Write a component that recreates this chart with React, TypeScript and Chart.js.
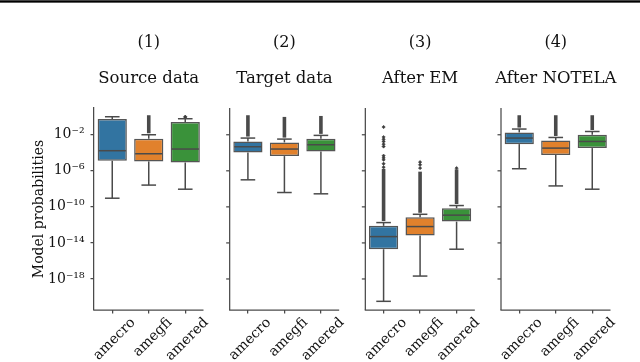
import { useEffect, useRef } from 'react';
import { Chart, registerables } from 'chart.js';

Chart.register(...registerables);

// ---------- data ----------
const PANEL_NUMBERS = ['(1)', '(2)', '(3)', '(4)'];
const PANEL_TITLES = ['Source data', 'Target data', 'After EM', 'After NOTELA'];
const SPECIES = ['amecro', 'amegfi', 'amered'];
const BOX_COLORS = ['#3274a1', '#e1812c', '#3a923a'];

// one entry per box, panel by panel: (1) amecro, amegfi, amered, (2) ..., (3) ..., (4) ...
const WHISKER_LOW = [9.1e-10, 2.6e-8, 9.1e-9, 1.0e-7, 3.9e-9, 2.8e-9, 3.3e-21, 2.1e-18, 2.0e-15, 1.7e-6, 2.1e-8, 9.1e-9];
const Q1 = [1.3e-5, 1.1e-5, 8.5e-6, 1.1e-4, 4.3e-5, 1.4e-4, 2.0e-15, 6.5e-14, 2.3e-12, 9.1e-4, 5.5e-5, 3.3e-4];
const MEDIAN = [1.7e-4, 7.8e-5, 2.6e-4, 4.7e-4, 2.6e-4, 7.8e-4, 5.0e-14, 6.5e-13, 1.2e-11, 4.3e-3, 3.3e-4, 1.8e-3];
const Q3 = [0.55, 3.6e-3, 0.26, 1.8e-3, 1.4e-3, 3.6e-3, 7.8e-13, 7.1e-12, 7.1e-11, 1.8e-2, 2.3e-3, 1.0e-2];
const WHISKER_HIGH = [1.0, 1.0e-2, 0.6, 4.3e-3, 3.3e-3, 8.5e-3, 1.8e-12, 1.5e-11, 1.4e-10, 4.3e-2, 5.0e-3, 2.3e-2];
// outliers that overlap into a solid column: [from, to]
const FLIER_DENSE_LOW = [null, 1.0e-2, null, 4.3e-3, 3.3e-3, 8.5e-3, 1.8e-12, 1.5e-11, 1.4e-10, 4.3e-2, 5.0e-3, 2.3e-2];
const FLIER_DENSE_HIGH = [null, 1.0, null, 1.0, 0.65, 0.83, 1.1e-6, 5.5e-7, 1.0e-6, 1.0, 1.0, 1.0];
// isolated outliers
const FLIER_SPARSE: number[][] = [
  [], [], [0.9, 1.0],
  [], [], [],
  [7.2e-2, 5.5e-3, 3.2e-3, 1.8e-3, 9.1e-4, 5.0e-4, 4.7e-5, 2.8e-5, 1.7e-5, 6.0e-6, 2.5e-6],
  [9.3e-6, 4.7e-6, 2.0e-6],
  [2.0e-6],
  [], [], [],
];

const Y_TICKS = [1e-2, 1e-6, 1e-10, 1e-14, 1e-18];
const Y_TICK_LABELS = ['10⁻²', '10⁻⁶', '10⁻¹⁰', '10⁻¹⁴', '10⁻¹⁸'];
const Y_LABEL = 'Model probabilities';
const Y_MIN = 3.6e-22;
const Y_MAX = 9.3;

// ---------- layout ----------
const PANEL_STEP = 3.717;
const BOX_WIDTH = 0.8;
const FONT = 'DejaVu Serif';
const LINE = '#4a4a4a';

const POSITIONS: number[] = [];
for (let p = 0; p < PANEL_TITLES.length; p++) {
  for (let j = 0; j < SPECIES.length; j++) POSITIONS.push(p * PANEL_STEP + j);
}

const boxPlugin = {
  id: 'boxParts',
  afterDatasetsDraw(chart: any) {
    const { ctx, scales } = chart;
    const x = scales.x;
    const y = scales.y;
    ctx.save();
    ctx.strokeStyle = LINE;
    ctx.fillStyle = LINE;
    ctx.lineWidth = 1.5;
    const seg = (x1: number, y1: number, x2: number, y2: number) => {
      ctx.beginPath();
      ctx.moveTo(x1, y1);
      ctx.lineTo(x2, y2);
      ctx.stroke();
    };
    POSITIONS.forEach((pos, i) => {
      const cx = x.getPixelForValue(pos);
      const half = x.getPixelForValue(pos + BOX_WIDTH / 2) - cx;
      const cap = half / 2;
      const yWL = y.getPixelForValue(WHISKER_LOW[i]);
      const yWH = y.getPixelForValue(WHISKER_HIGH[i]);
      const yQ1 = y.getPixelForValue(Q1[i]);
      const yQ3 = y.getPixelForValue(Q3[i]);
      const yMed = y.getPixelForValue(MEDIAN[i]);
      seg(cx, yQ1, cx, yWL);
      seg(cx, yQ3, cx, yWH);
      seg(cx - cap, yWL, cx + cap, yWL);
      seg(cx - cap, yWH, cx + cap, yWH);
      seg(cx - half + 1, yMed, cx + half - 1, yMed);
      const dl = FLIER_DENSE_LOW[i];
      const dh = FLIER_DENSE_HIGH[i];
      if (dl != null && dh != null) {
        const top = y.getPixelForValue(dh);
        const bot = y.getPixelForValue(dl);
        ctx.fillRect(cx - 1.8, top - 1.5, 3.6, bot - top);
      }
    });
    ctx.restore();
  },
  afterDraw(chart: any) {
    const { ctx, scales, chartArea } = chart;
    const x = scales.x;
    const y = scales.y;
    ctx.save();
    ctx.strokeStyle = LINE;
    ctx.lineWidth = 1.25;
    for (let p = 0; p < PANEL_TITLES.length; p++) {
      const left = x.getPixelForValue(p * PANEL_STEP - 0.5);
      const right = x.getPixelForValue(p * PANEL_STEP + 2.5);
      // bottom spine
      ctx.beginPath();
      ctx.moveTo(left - 0.6, chartArea.bottom);
      ctx.lineTo(right, chartArea.bottom);
      ctx.stroke();
      if (p > 0) {
        ctx.beginPath();
        ctx.moveTo(left, chartArea.top);
        ctx.lineTo(left, chartArea.bottom);
        ctx.stroke();
        Y_TICKS.forEach((v) => {
          const ty = y.getPixelForValue(v);
          ctx.beginPath();
          ctx.moveTo(left - 3.5, ty);
          ctx.lineTo(left, ty);
          ctx.stroke();
        });
      }
      const cx = x.getPixelForValue(p * PANEL_STEP + 1);
      ctx.fillStyle = '#111';
      ctx.textAlign = 'center';
      ctx.textBaseline = 'alphabetic';
      ctx.font = `16px "${FONT}"`;
      ctx.fillText(PANEL_NUMBERS[p], cx, 47);
      ctx.font = `16.5px "${FONT}"`;
      ctx.fillText(PANEL_TITLES[p], cx, 83);
    }
    ctx.restore();
  },
};

export default function App() {
  const ref = useRef<HTMLCanvasElement>(null);
  useEffect(() => {
    const canvas = ref.current;
    if (!canvas) return;
    const sparse: { x: number; y: number }[] = [];
    FLIER_SPARSE.forEach((list, i) => list.forEach((v) => sparse.push({ x: POSITIONS[i], y: v })));
    const chart = new Chart(canvas, {
      type: 'bar',
      data: {
        datasets: [
          {
            type: 'bar',
            data: POSITIONS.map((pos, i) => ({ x: pos, y: [Q1[i], Q3[i]] })) as any,
            backgroundColor: POSITIONS.map((_, i) => BOX_COLORS[i % 3]),
            borderColor: '#555',
            borderWidth: 1.5,
            borderSkipped: false,
            barPercentage: BOX_WIDTH,
            categoryPercentage: 1,
          } as any,
          {
            type: 'scatter',
            data: sparse,
            pointStyle: 'rectRot',
            radius: 1.7,
            backgroundColor: '#3d3d3d',
            borderColor: '#3d3d3d',
            borderWidth: 0.5,
          } as any,
        ],
      },
      options: {
        animation: false,
        responsive: false,
        maintainAspectRatio: false,
        devicePixelRatio: 1,
        layout: { padding: { top: 108, right: 29.5, bottom: 0, left: 0 } },
        plugins: { legend: { display: false }, tooltip: { enabled: false } },
        scales: {
          x: {
            type: 'linear',
            min: -0.5,
            max: (PANEL_TITLES.length - 1) * PANEL_STEP + 2.5,
            offset: false,
            grid: { display: true, drawOnChartArea: false, drawTicks: true, tickLength: 3.5, color: LINE, lineWidth: 1.25, offset: false },
            border: { display: false },
            afterBuildTicks: (scale: any) => {
              scale.ticks = POSITIONS.map((v) => ({ value: v }));
            },
            afterFit: (scale: any) => {
              scale.height = 52;
            },
            ticks: {
              autoSkip: false,
              minRotation: 45,
              maxRotation: 45,
              labelOffset: 21,
              padding: 1,
              color: '#111',
              font: { family: FONT, size: 14 },
              callback: (_v: any, i: number) => SPECIES[i % SPECIES.length],
            },
          },
          y: {
            type: 'logarithmic',
            min: Y_MIN,
            max: Y_MAX,
            bounds: 'data',
            grid: { display: true, drawOnChartArea: false, drawTicks: true, tickLength: 3.5, color: LINE, lineWidth: 1.25 },
            border: { display: true, color: LINE, width: 1.25 },
            afterBuildTicks: (scale: any) => {
              scale.ticks = Y_TICKS.map((v) => ({ value: v }));
            },
            afterFit: (scale: any) => {
              scale.width = 94;
            },
            title: {
              display: true,
              text: Y_LABEL,
              color: '#111',
              font: { family: FONT, size: 14 },
              padding: { top: 31, bottom: 0 },
            },
            ticks: {
              autoSkip: false,
              padding: 6,
              color: '#111',
              font: { family: FONT, size: 14 },
              callback: (_v: any, i: number) => Y_TICK_LABELS[i],
            },
          },
        },
      } as any,
      plugins: [boxPlugin],
    });
    return () => chart.destroy();
  }, []);
  return (
    <div style={{ position: 'fixed', left: 0, top: 0, width: 640, height: 362, background: '#fff', overflow: 'hidden' }}>
      <div style={{ position: 'absolute', left: 0, top: 0, width: 640, height: 3, background: 'linear-gradient(#666, #000 50%, #888)' }} />
      <canvas ref={ref} width={640} height={362} style={{ position: 'absolute', left: 0, top: 0, width: 640, height: 362 }} />
    </div>
  );
}
